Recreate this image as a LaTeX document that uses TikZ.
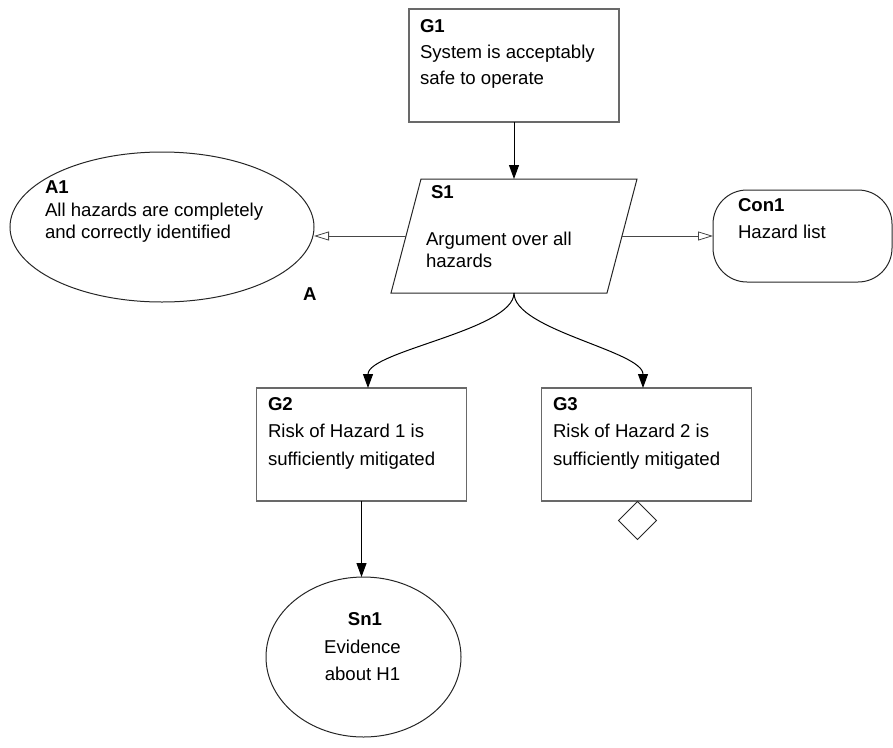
\documentclass[tikz,border=0pt]{standalone}
\usepackage{fontspec}
\setmainfont{Liberation Sans}
\usetikzlibrary{shapes.geometric,arrows.meta,calc}
\definecolor{boxgray}{RGB}{105,105,105}
\definecolor{linegray}{RGB}{70,70,70}
\begin{document}
\begin{tikzpicture}[x=1pt,y=-1pt,
  every node/.style={inner sep=0pt, outer sep=0pt},
  txt/.style={anchor=base west, font=\fontsize{18.6}{22}\selectfont},
  ttl/.style={anchor=base west, font=\fontsize{18.6}{22}\selectfont\bfseries},
  ctxt/.style={anchor=base, font=\fontsize{18.6}{22}\selectfont},
  cttl/.style={anchor=base, font=\fontsize{18.6}{22}\selectfont\bfseries},
  goal/.style={rectangle, draw=boxgray, line width=1.5pt,
    minimum width=210pt, minimum height=113pt},
  outline/.style={draw=black!85, line width=1pt},
  arr/.style={-{Triangle[length=14pt,width=10pt]}, line width=1pt, draw=black},
  oarr/.style={-{Triangle[open,length=15pt,width=9pt]}, line width=0.8pt, draw=linegray},
]
\useasboundingbox (0,0) rectangle (893,747);

% Goal G1
\node[goal] (g1) at (514,65.5) {};
\node[ttl] (g1h) at (420,32) {G1};
\node[txt] (g1a) at (420,58) {System is acceptably};
\node[txt] (g1b) at (420,84) {safe to operate};

% Strategy S1 (parallelogram drawn around an invisible frame)
\node[minimum width=216pt, minimum height=114pt] (s1) at (514,236) {};
\draw[outline] ([xshift=15pt]s1.north west) -- ([xshift=15pt]s1.north east)
  -- ([xshift=-15pt]s1.south east) -- ([xshift=-15pt]s1.south west) -- cycle;
\node[ttl] (s1h) at (431,198) {S1};
\node[txt] (s1a) at (426,245) {Argument over all};
\node[txt] (s1b) at (426,267) {hazards};

% Assumption A1
\node[ellipse, outline, minimum width=304pt, minimum height=150pt] (a1) at (162,227) {};
\node[ttl] (a1h) at (45,193) {A1};
\node[txt] (a1a) at (45,216) {All hazards are completely};
\node[txt] (a1b) at (45,238) {and correctly identified};
\node[ttl] (a1tag) at (303,300) {A};

% Context Con1
\node[rectangle, rounded corners=34pt, outline, minimum width=179pt,
  minimum height=92pt] (con1) at (802.5,236) {};
\node[ttl] (con1h) at (738,211) {Con1};
\node[txt] (con1a) at (738,238) {Hazard list};

% Goals G2 and G3
\node[goal] (g2) at (361.5,444.5) {};
\node[ttl] (g2h) at (268,410) {G2};
\node[txt] (g2a) at (268,437) {Risk of Hazard 1 is};
\node[txt] (g2b) at (268,465) {sufficiently mitigated};

\node[goal] (g3) at (646.5,444.5) {};
\node[ttl] (g3h) at (553,410) {G3};
\node[txt] (g3a) at (553,437) {Risk of Hazard 2 is};
\node[txt] (g3b) at (553,465) {sufficiently mitigated};

% Undeveloped marker under G3
\node[diamond, outline, minimum size=38pt] (g3u) at (637.5,520.5) {};

% Solution Sn1
\node[ellipse, outline, minimum width=195pt, minimum height=160pt] (sn1) at (363.5,657) {};
\node[cttl] (sn1h) at (365,625) {Sn1};
\node[ctxt] (sn1a) at (362.5,653) {Evidence};
\node[ctxt] (sn1b) at (362.5,680) {about H1};

% Connectors
\draw[arr] (g1.south) -- (s1.north);
\draw[oarr] (s1.west) -- (s1.west -| a1.east);
\draw[oarr] (s1.east) -- (con1.west);
\draw[arr] (s1.south) .. controls +(0,37) and +(0,-37) .. ([xshift=6.5pt]g2.north);
\draw[arr] (s1.south) .. controls +(0,37) and +(0,-37) .. ([xshift=-3.5pt]g3.north);
\draw[arr] (g2.south) -- (g2.south |- sn1.north);
\end{tikzpicture}
\end{document}
